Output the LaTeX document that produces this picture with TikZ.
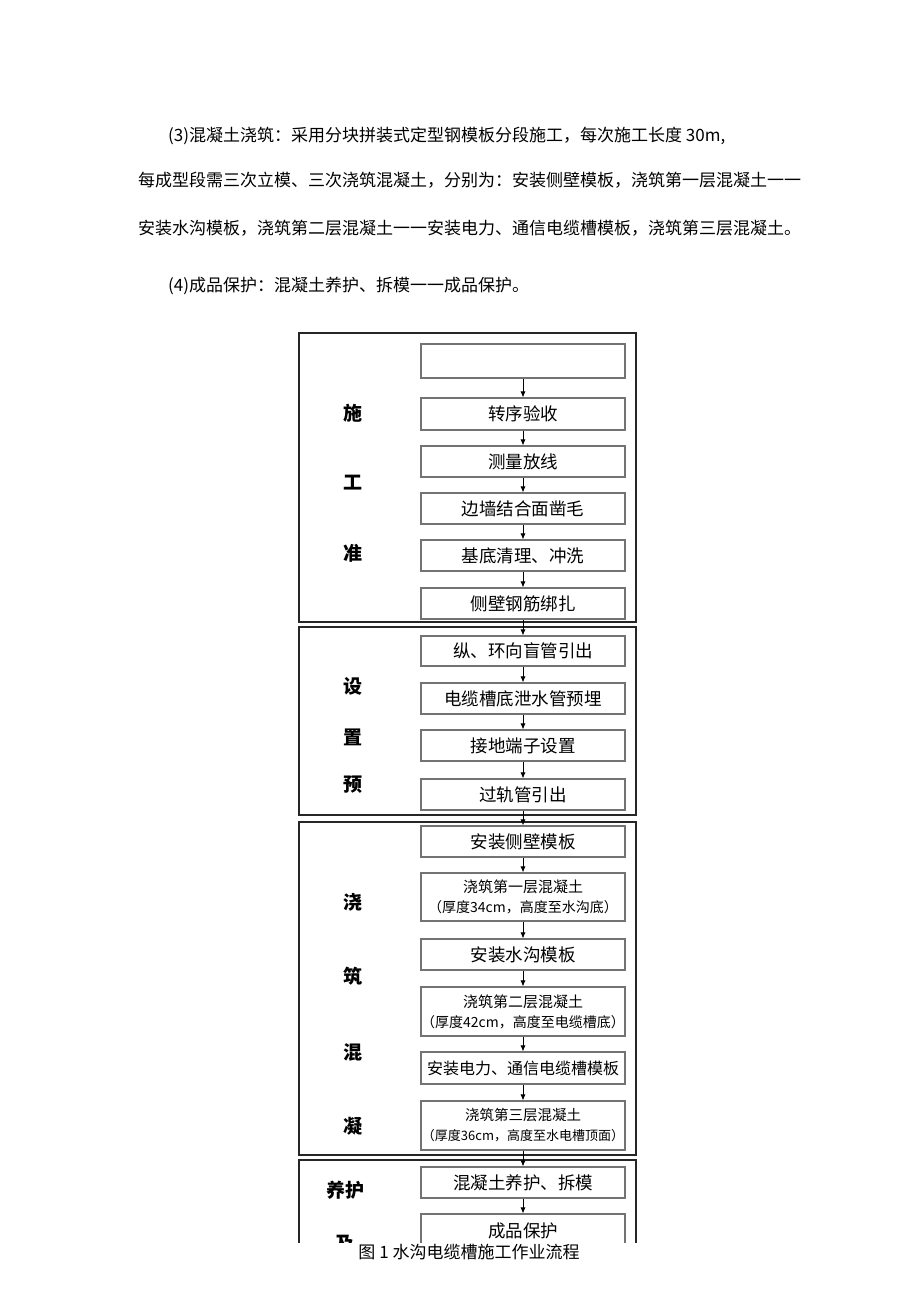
\documentclass[tikz,border=0pt]{standalone}
\usepackage{fontspec}
\newfontfamily\cjk{Noto Sans CJK SC}
\usetikzlibrary{arrows.meta}
\begin{document}
\begin{tikzpicture}[x=1pt,y=-1pt,
  box/.style={draw=black!55, line width=1.1pt, minimum width=204pt, inner sep=0pt, align=center, font=\cjk\fontsize{17.5}{19}\selectfont},
  bbox/.style={box, font=\cjk\fontsize{14}{20}\selectfont},
  frame/.style={draw=black!85, line width=1.8pt},
  lab/.style={inner sep=0pt, font=\cjk\bfseries\fontsize{19}{21}\selectfont},
  arr/.style={-{Latex[length=6pt,width=5pt]}, line width=0.8pt},
  para/.style={anchor=west, inner sep=0pt, font=\cjk\fontsize{17}{20}\selectfont}]
\useasboundingbox (0,0) rectangle (920,1301);
\fill[white] (0,0) rectangle (920,1301);

% paragraph text
\node[para] (p1) at (168,136) {(3)混凝土浇筑：采用分块拼装式定型钢模板分段施工，每次施工长度 30m,};
\node[para] (p2) at (138,180) {每成型段需三次立模、三次浇筑混凝土，分别为：安装侧壁模板，浇筑第一层混凝土一一};
\node[para] (p3) at (138,228) {安装水沟模板，浇筑第二层混凝土一一安装电力、通信电缆槽模板，浇筑第三层混凝土。};
\node[para] (p4) at (168,286) {(4)成品保护：混凝土养护、拆模一一成品保护。};

\begin{scope}
\clip (0,0) rectangle (920,1242);
% frames
\draw[frame] (299,333) rectangle (636,622);
\draw[frame] (299,627) rectangle (636,815);
\draw[frame] (299,822) rectangle (636,1155);
\draw[frame] (299,1160) rectangle (636,1300);

% boxes
\node[box, minimum height=34pt] (b0) at (523,361) {};
\node[box, minimum height=32pt] (b1) at (523,414) {转序验收};
\node[box, minimum height=31pt] (b2) at (523,461.5) {测量放线};
\node[box, minimum height=31pt] (b3) at (523,508.5) {边墙结合面凿毛};
\node[box, minimum height=31pt] (b4) at (523,555.5) {基底清理、冲洗};
\node[box, minimum height=31pt] (b5) at (523,603.5) {侧壁钢筋绑扎};

\node[box, minimum height=30pt] (c1) at (523,651) {纵、环向盲管引出};
\node[box, minimum height=31pt] (c2) at (523,698.5) {电缆槽底泄水管预埋};
\node[box, minimum height=31pt] (c3) at (523,745.5) {接地端子设置};
\node[box, minimum height=31pt] (c4) at (523,794.5) {过轨管引出};

\node[box, minimum height=31pt] (d1) at (523,841.5) {安装侧壁模板};
\node[bbox, minimum height=48pt] (d2) at (523,897) {{\fontsize{15}{20}\selectfont 浇筑第一层混凝土}\\（厚度34cm，高度至水沟底）};
\node[box, minimum height=31pt] (d3) at (523,954.5) {安装水沟模板};
\node[bbox, minimum height=49pt] (d4) at (523,1011.5) {{\fontsize{15}{20}\selectfont 浇筑第二层混凝土}\\（厚度42cm，高度至电缆槽底）};
\node[box, minimum height=32pt, font=\cjk\fontsize{16}{19}\selectfont] (d5) at (523,1068) {安装电力、通信电缆槽模板};
\node[bbox, minimum height=49pt, font=\cjk\fontsize{13}{20}\selectfont] (d6) at (523,1125.5) {{\fontsize{14.5}{20}\selectfont 浇筑第三层混凝土}\\（厚度36cm，高度至水电槽顶面）};

\node[box, minimum height=31pt] (e1) at (523,1182.5) {混凝土养护、拆模};
\node[box, minimum height=34pt] (e2) at (523,1231) {成品保护};

% arrows
\foreach \a/\b in {b0/b1,b1/b2,b2/b3,b3/b4,b4/b5,b5/c1,c1/c2,c2/c3,c3/c4,c4/d1,d1/d2,d2/d3,d3/d4,d4/d5,d5/d6,d6/e1,e1/e2}
  \draw[arr] (\a.south) -- (\b.north);

% side labels
\node[lab] (l1) at (353,413) {施};
\node[lab] (l2) at (353,483) {工};
\node[lab] (l3) at (353,553) {准};
\node[lab] (l4) at (353,686) {设};
\node[lab] (l5) at (353,737) {置};
\node[lab] (l6) at (353,785) {预};
\node[lab] (l7) at (353,902) {浇};
\node[lab] (l8) at (353,976) {筑};
\node[lab] (l9) at (353,1052) {混};
\node[lab] (l10) at (353,1126) {凝};
\node[lab] (l11) at (345,1190) {养护};
\node[lab] (l12) at (345,1244) {及};
\end{scope}

% caption
\node[inner sep=0pt, font=\cjk\fontsize{17}{20}\selectfont] (cap) at (469,1252) {图 1 水沟电缆槽施工作业流程};
\end{tikzpicture}
\end{document}
